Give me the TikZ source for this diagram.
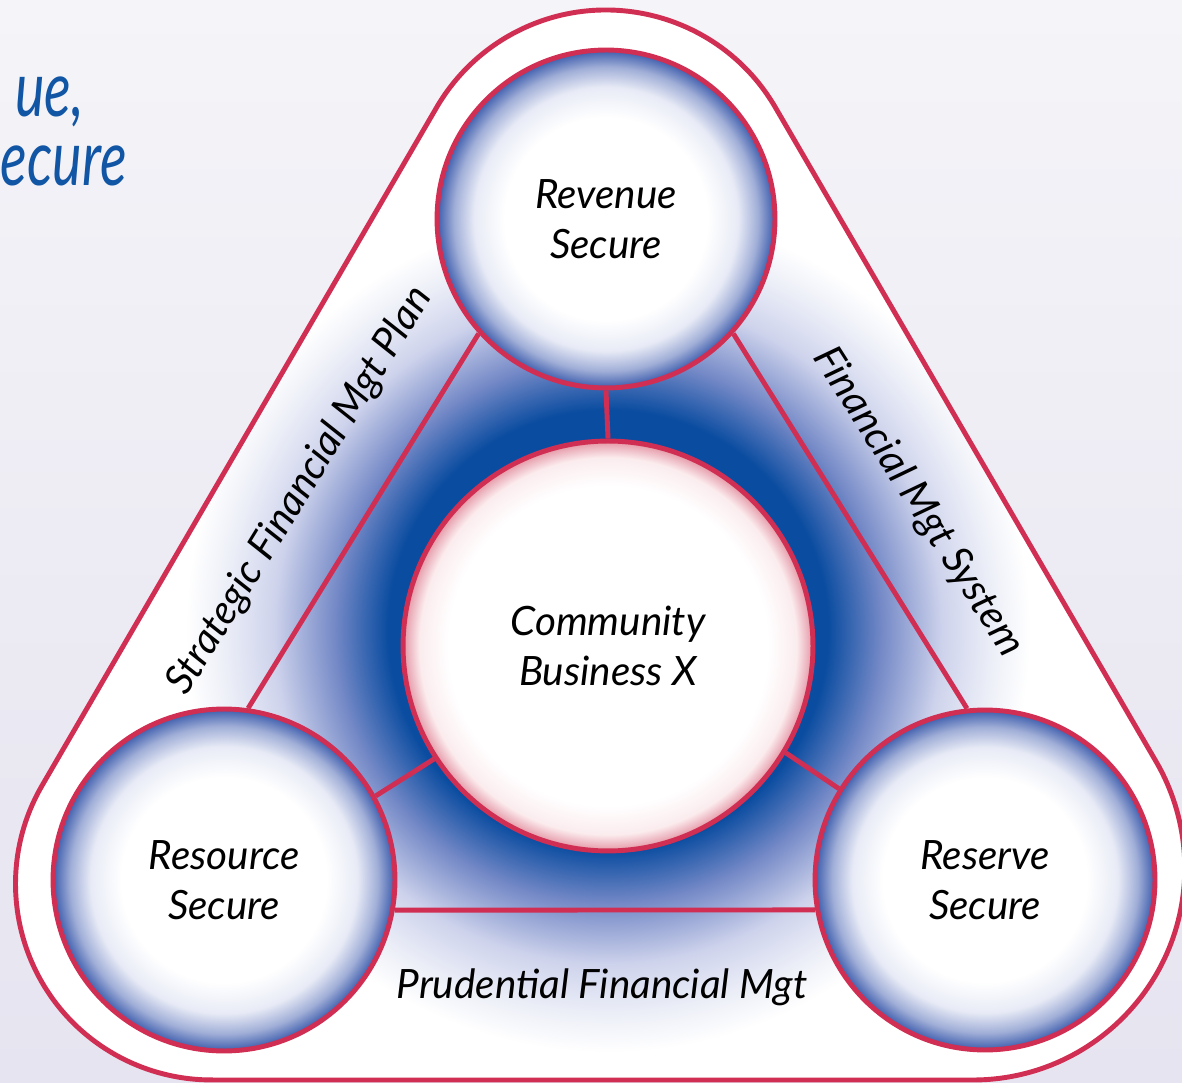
\documentclass[tikz,border=0pt]{standalone}
\usepackage{fontspec}
\setmainfont{Lato}
\definecolor{rimred}{RGB}{208,46,82}
\definecolor{glowblue}{RGB}{10,76,160}
\definecolor{glowmid}{RGB}{115,136,198}
\definecolor{glowlight}{RGB}{206,211,236}
\definecolor{glowfaint}{RGB}{238,240,248}
\definecolor{bubA}{RGB}{232,235,246}
\definecolor{bubB}{RGB}{160,174,215}
\definecolor{bubC}{RGB}{60,92,172}
\definecolor{pinkA}{RGB}{251,236,238}
\definecolor{pinkB}{RGB}{228,150,165}
\definecolor{titleblue}{RGB}{17,85,165}
\definecolor{bgA}{RGB}{245,244,248}
\definecolor{bgB}{RGB}{229,228,240}
\pgfdeclareradialshading{bubble}{\pgfpointorigin}{color(0bp)=(white); color(15bp)=(white); color(19.5bp)=(bubA); color(22.5bp)=(bubB); color(25bp)=(bubC); color(50bp)=(bubC)}
\pgfdeclareradialshading{core}{\pgfpointorigin}{color(0bp)=(white); color(19.5bp)=(white); color(23bp)=(pinkA); color(25bp)=(pinkB); color(50bp)=(pinkB)}
\pgfdeclareradialshading{glow}{\pgfpointorigin}{color(0bp)=(glowblue); color(12.5bp)=(glowblue); color(15.5bp)=(glowmid); color(19bp)=(glowlight); color(22bp)=(glowfaint); color(24bp)=(white); color(50bp)=(white)}
\begin{document}
\begin{tikzpicture}[x=0.02cm,y=0.02cm,
  lblfont/.style={font={\fontsize{23}{28.5}\selectfont\itshape}},
  bubblenode/.style={circle, draw=rimred, line width=2.8pt, shade, shading=bubble, align=center, lblfont, inner sep=0pt},
  corenode/.style={circle, draw=rimred, line width=2.8pt, shade, shading=core, align=center, lblfont, inner sep=0pt},
  conn/.style={draw=rimred, line width=2.8pt},
  sidelabel/.style={lblfont, inner sep=0pt},
  titletext/.style={font={\fontsize{44}{50}\selectfont\itshape}, text=titleblue, inner sep=0pt, xscale=0.72, transform shape}]
\useasboundingbox (0,0) rectangle (1182,1082);
% background
\shade[top color=bgA, bottom color=bgB] (0,0) rectangle (1182,1082);
\def\outerpath{(211.5,2) -- (972.8,2) arc[start angle=-90,end angle=30,radius=4.24cm] -- (775.7,974) arc[start angle=30,end angle=150,radius=3.92cm] -- (41.8,296) arc[start angle=150,end angle=270,radius=3.92cm] -- cycle}
\fill[white] \outerpath;
\begin{scope}
  \clip \outerpath;
  \shade[shading=glow] (608,452) circle[radius=8.8cm];
\end{scope}
% title fragments
\node[titletext, anchor=base east] (t1) at (84,965) {ue,};
\node[titletext, anchor=base east] (t2) at (127,896) {ecure};
% circles
\node[bubblenode, minimum size=6.76cm] (T) at (606,863) {Revenue\\Secure};
\node[bubblenode, minimum size=6.84cm] (L) at (224,202) {Resource\\Secure};
\node[bubblenode, minimum size=6.80cm] (R) at (985,202) {Reserve\\Secure};
\node[corenode, minimum size=8.2cm] (C) at (608,436) {Community\\Business X};
% connectors
\draw[conn] (L.82) -- (T.222);
\draw[conn] (T.318.5) -- (R.96);
\draw[conn] (L.-10.7) -- (R.190.8);
\draw[conn] (T.270) -- (C.90);
\draw[conn] (C.213) -- (L.29);
\draw[conn] (C.-31.6) -- (R.148);
% outer border
\draw[rimred, line width=2.8pt] \outerpath;
% side labels
\node[sidelabel, rotate=58.5] (sl) at (300,591) {Strategic Financial Mgt Plan};
\node[sidelabel, rotate=-57.5] (sr) at (918,580) {Financial Mgt System};
\node[sidelabel, anchor=base] (sb) at (602,84) {Prudential Financial Mgt};
\end{tikzpicture}
\end{document}
